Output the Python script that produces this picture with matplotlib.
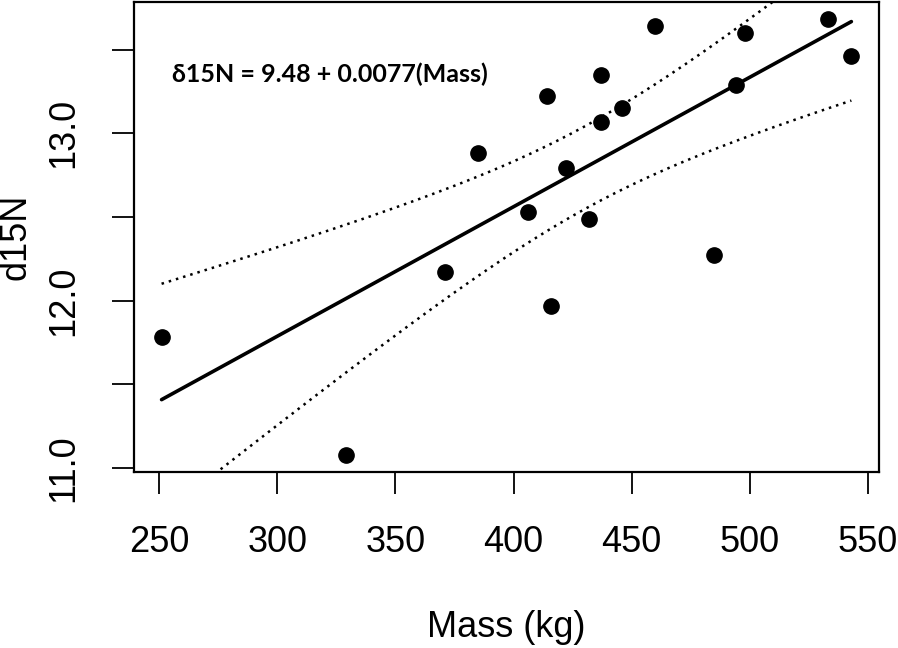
import matplotlib.pyplot as plt
import numpy as np

# values
mass = [251, 329, 371, 385, 406, 414, 416, 422, 432, 437, 437, 446, 460, 485, 494, 498, 533, 543]
d15n = [11.78, 11.08, 12.17, 12.88, 12.53, 13.22, 11.97, 12.79, 12.49, 13.35, 13.07, 13.15,
        13.64, 12.27, 13.29, 13.60, 13.68, 13.46]
eq_text = "\u03b415N = 9.48 + 0.0077(Mass)"
x_ticks = [250, 300, 350, 400, 450, 500, 550]
y_ticks = [11.0, 11.5, 12.0, 12.5, 13.0, 13.5]
y_labels = ["11.0", "", "12.0", "", "13.0", ""]

plt.rcParams['font.family'] = ['Liberation Sans', 'DejaVu Sans']

x = np.array(mass, dtype=float)
y = np.array(d15n)
n = len(x)
b1, b0 = np.polyfit(x, y, 1)
resid = y - (b0 + b1 * x)
s = np.sqrt(np.sum(resid ** 2) / (n - 2))
sxx = np.sum((x - x.mean()) ** 2)
t = 2.12  # t(0.975, df=16)

xs = np.linspace(x.min(), x.max(), 200)
fit = b0 + b1 * xs
half = t * s * np.sqrt(1 / n + (xs - x.mean()) ** 2 / sxx)

fig = plt.figure(figsize=(8.98, 6.48), dpi=100)
ax = fig.add_axes([0.1492, 0.2716, 0.8296, 0.7253])

ax.plot(x, y, 'o', color='black', markersize=11)
ax.plot(xs, fit, color='black', lw=2.6, solid_capstyle='round')
ax.plot(xs, fit + half, color='black', lw=1.8, linestyle=(0, (1, 2.0)))
ax.plot(xs, fit - half, color='black', lw=1.8, linestyle=(0, (1, 2.0)))

# R style 4% padding
xr = x.max() - x.min()
yr = y.max() - y.min()
ax.set_xlim(x.min() - 0.04 * xr, x.max() + 0.04 * xr)
ax.set_ylim(y.min() - 0.04 * yr, y.max() + 0.04 * yr)

ax.set_xticks(x_ticks)
ax.set_yticks(y_ticks)
ax.set_yticklabels(y_labels, rotation=90, va='center')
ax.tick_params(axis='both', length=16, width=1.3, labelsize=26, pad=22)

for sp in ax.spines.values():
    sp.set_linewidth(1.6)

ax.set_xlabel("Mass (kg)", fontsize=26, labelpad=36)
ax.set_ylabel("d15N", fontsize=26)
ax.yaxis.set_label_coords(-0.135, 0.5)

ax.text(255.5, 13.35, eq_text, fontsize=18, fontweight='bold', family=['Lato', 'DejaVu Sans'],
        va='center', ha='left')

fig.savefig("out.png", dpi=100)
